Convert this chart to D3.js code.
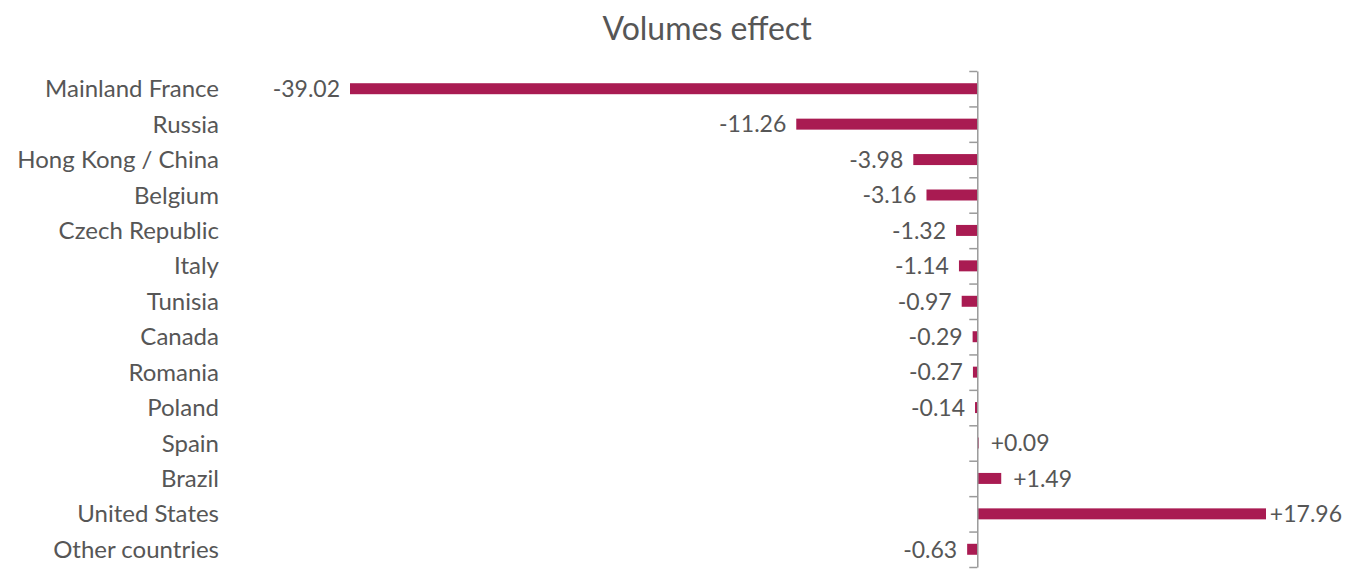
<!DOCTYPE html>
<html>
<head>
<meta charset="utf-8">
<script src="https://cdn.jsdelivr.net/npm/d3@7"></script>
<style>
  html, body { margin: 0; padding: 0; background: #fff; }
  svg { display: block; font-family: Lato, "Open Sans", sans-serif; }
</style>
</head>
<body>
<svg id="chart" width="1345" height="569"></svg>
<script>
// Volume effect by country
const countries = [
  "Mainland France", "Russia", "Hong Kong / China", "Belgium", "Czech Republic",
  "Italy", "Tunisia", "Canada", "Romania", "Poland", "Spain", "Brazil",
  "United States", "Other countries"
];
const volumes = [
  -39.02, -11.26, -3.98, -3.16, -1.32, -1.14, -0.97, -0.29, -0.27, -0.14,
  0.09, 1.49, 17.96, -0.63
];
const title = "Volumes effect";

const data = countries.map((c, i) => ({ country: c, value: volumes[i] }));

const width = 1345;
const svg = d3.select("#chart");
const textColor = "#565656";
const barColor = "#a91b52";
const axisColor = "#9a9a9a";

const plotTop = 71, plotBottom = 567;

const x = d3.scaleLinear()
  .domain(d3.extent(volumes))
  .range([350, 1266]);

const y = d3.scaleBand()
  .domain(countries)
  .range([plotTop, plotBottom])
  .paddingInner(0.69)
  .paddingOuter(0.345);

// ticks sit on the boundaries between rows
const rowEdges = d3.scaleLinear().domain([0, countries.length]).range([plotTop, plotBottom]);

svg.append("text")
  .attr("x", 707)
  .attr("y", 40)
  .attr("text-anchor", "middle")
  .attr("fill", textColor)
  .style("font-size", "32px")
  .text(title);

svg.selectAll("rect.bar")
  .data(data)
  .join("rect")
  .attr("class", "bar")
  .attr("x", d => x(Math.min(0, d.value)))
  .attr("width", d => Math.abs(x(d.value) - x(0)))
  .attr("y", d => y(d.country))
  .attr("height", y.bandwidth())
  .attr("fill", barColor);

const axis = svg.append("g")
  .attr("transform", `translate(${x(0)},0)`)
  .call(d3.axisLeft(rowEdges)
    .tickValues(d3.range(countries.length + 1))
    .tickFormat("")
    .tickSize(8)
    .tickSizeOuter(0));
axis.selectAll("path, line").attr("stroke", axisColor).attr("stroke-width", 1.5);

svg.selectAll("text.cat")
  .data(data)
  .join("text")
  .attr("class", "cat")
  .attr("x", 219)
  .attr("y", d => y(d.country) + y.bandwidth() / 2)
  .attr("dy", "0.36em")
  .attr("text-anchor", "end")
  .attr("fill", textColor)
  .style("font-size", "24px")
  .text(d => d.country);

const fmt = v => (v > 0 ? "+" : "") + v.toFixed(2);

// value labels: outside the bar end, kept inside the drawing on the right
svg.selectAll("text.val")
  .data(data)
  .join("text")
  .attr("class", "val")
  .attr("y", d => y(d.country) + y.bandwidth() / 2)
  .attr("dy", "0.36em")
  .attr("text-anchor", d => d.value < 0 ? "end" : "start")
  .attr("fill", textColor)
  .style("font-size", "23px")
  .text(d => fmt(d.value))
  .attr("x", function (d) {
    if (d.value < 0) return x(d.value) - 10;
    const w = this.getComputedTextLength();
    return Math.min(x(d.value) + 12, width - 3 - w);
  });
</script>
</body>
</html>
